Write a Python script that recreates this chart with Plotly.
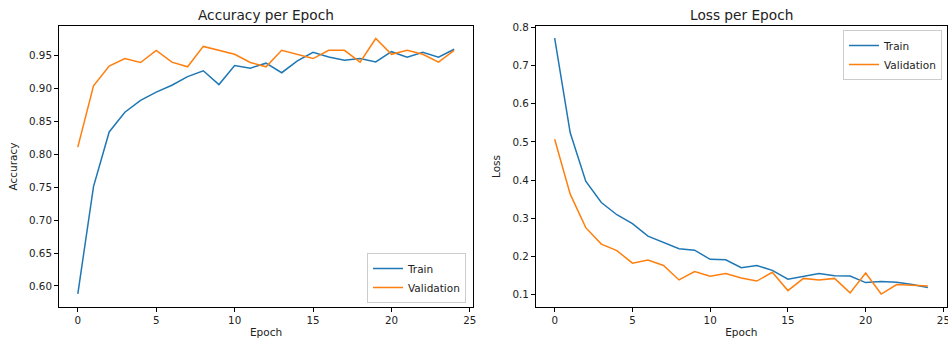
import plotly.graph_objects as go

epochs = list(range(25))
train_acc = [0.588, 0.751, 0.834, 0.864, 0.882, 0.8945, 0.905, 0.918, 0.927, 0.906,
             0.935, 0.931, 0.9385, 0.924, 0.942, 0.955, 0.948, 0.943, 0.9455, 0.9405,
             0.956, 0.9475, 0.955, 0.9475, 0.9597]
val_acc = [0.811, 0.904, 0.934, 0.9455, 0.9395, 0.958, 0.940, 0.933, 0.964, 0.958,
           0.952, 0.9395, 0.933, 0.958, 0.952, 0.9455, 0.958, 0.958, 0.940, 0.976,
           0.952, 0.958, 0.952, 0.940, 0.958]
train_loss = [0.772, 0.524, 0.397, 0.341, 0.309, 0.2855, 0.253, 0.237, 0.220, 0.216,
              0.192, 0.191, 0.170, 0.176, 0.163, 0.140, 0.147, 0.155, 0.149, 0.148,
              0.131, 0.134, 0.132, 0.126, 0.118]
val_loss = [0.507, 0.363, 0.275, 0.232, 0.215, 0.182, 0.190, 0.176, 0.138, 0.160,
            0.148, 0.155, 0.143, 0.135, 0.158, 0.110, 0.142, 0.138, 0.142, 0.104,
            0.156, 0.101, 0.126, 0.125, 0.122]
x_ticks = [0, 5, 10, 15, 20, 25]
acc_ticks = [0.60, 0.65, 0.70, 0.75, 0.80, 0.85, 0.90, 0.95]
loss_ticks = [0.1, 0.2, 0.3, 0.4, 0.5, 0.6, 0.7, 0.8]

BLUE = "#1f77b4"
ORANGE = "#ff7f0e"
FONT = "DejaVu Sans"

fig = go.Figure()
fig.add_trace(go.Scatter(x=epochs, y=train_acc, mode="lines", name="Train",
                         line=dict(color=BLUE, width=1.5), xaxis="x", yaxis="y", legend="legend"))
fig.add_trace(go.Scatter(x=epochs, y=val_acc, mode="lines", name="Validation",
                         line=dict(color=ORANGE, width=1.5), xaxis="x", yaxis="y", legend="legend"))
fig.add_trace(go.Scatter(x=epochs, y=train_loss, mode="lines", name="Train",
                         line=dict(color=BLUE, width=1.5), xaxis="x2", yaxis="y2", legend="legend2"))
fig.add_trace(go.Scatter(x=epochs, y=val_loss, mode="lines", name="Validation",
                         line=dict(color=ORANGE, width=1.5), xaxis="x2", yaxis="y2", legend="legend2"))

axis_common = dict(showline=True, linecolor="black", linewidth=1, mirror=True,
                   ticks="outside", ticklen=4, tickcolor="black", tickwidth=1,
                   showgrid=False, zeroline=False, automargin=False,
                   ticklabeloverflow="allow",
                   tickfont=dict(family=FONT, size=10.3, color="#222"))

Y0, Y1 = 1 - 307 / 340, 1 - 26 / 340

fig.update_layout(
    width=948, height=340,
    margin=dict(l=0, r=0, t=0, b=0, autoexpand=False),
    paper_bgcolor="white", plot_bgcolor="white",
    font=dict(family=FONT, size=10, color="#222"),
    xaxis=dict(domain=[59 / 948, 473 / 948], range=[-1.2, 25.2], tickvals=x_ticks,
               title=dict(text="Epoch", font=dict(family=FONT, size=10.5), standoff=3),
               anchor="y", **axis_common),
    yaxis=dict(domain=[Y0, Y1], range=[0.568, 0.995], tickvals=acc_ticks, tickformat=".2f",
               title=dict(text="Accuracy", font=dict(family=FONT, size=10.5), standoff=9),
               anchor="x", **axis_common),
    xaxis2=dict(domain=[536 / 948, 946.5 / 948], range=[-1.2, 25.2], tickvals=x_ticks,
                title=dict(text="Epoch", font=dict(family=FONT, size=10.5), standoff=3),
                anchor="y2", **axis_common),
    yaxis2=dict(domain=[Y0, Y1], range=[0.067, 0.804], tickvals=loss_ticks, tickformat=".1f",
                title=dict(text="Loss", font=dict(family=FONT, size=10.5), standoff=9),
                anchor="x2", **axis_common),
    legend=dict(x=466 / 948, y=1 - 303 / 340, xanchor="right", yanchor="bottom",
                bgcolor="rgba(255,255,255,0.8)", bordercolor="#cccccc", borderwidth=1,
                font=dict(family=FONT, size=10.5, color="#222"), tracegroupgap=0,
                itemwidth=30),
    legend2=dict(x=942 / 948, y=1 - 30 / 340, xanchor="right", yanchor="top",
                 bgcolor="rgba(255,255,255,0.8)", bordercolor="#cccccc", borderwidth=1,
                 font=dict(family=FONT, size=10.5, color="#222"), tracegroupgap=0,
                 itemwidth=30),
    annotations=[
        dict(text="Accuracy per Epoch", x=(59 + 473) / 2 / 948, y=1 - 15 / 340,
             xref="paper", yref="paper", showarrow=False,
             font=dict(family=FONT, size=13.7, color="#222"), xanchor="center", yanchor="middle"),
        dict(text="Loss per Epoch", x=(536 + 946.5) / 2 / 948, y=1 - 15 / 340,
             xref="paper", yref="paper", showarrow=False,
             font=dict(family=FONT, size=13.7, color="#222"), xanchor="center", yanchor="middle"),
    ],
)

fig.write_html("out.html", config={"displayModeBar": False},
               post_script="document.body.style.margin='0px';document.body.style.overflow='hidden';")
